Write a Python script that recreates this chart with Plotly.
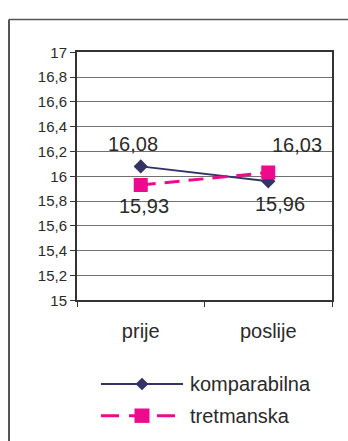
import plotly.graph_objects as go

# Mean scores before/after for the two groups
categories = ["prije", "poslije"]
komparabilna = [16.08, 15.96]
tretmanska = [15.93, 16.03]
series_names = ["komparabilna", "tretmanska"]
label_texts_k = ["16,08", "15,96"]
label_texts_t = ["15,93", "16,03"]

W, H = 348, 441
NAVY = "#333366"
PINK = "#EE0A8C"
TEXT = "#2a2a2a"
FONT = "Liberation Sans, Arial, sans-serif"

def px_x(x):
    return x / W

def px_y(y):
    return 1 - y / H

fig = go.Figure()
fig.add_trace(go.Scatter(
    x=categories, y=komparabilna, mode="lines+markers", name=series_names[0],
    line=dict(color=NAVY, width=2),
    marker=dict(symbol="diamond", size=11, color=NAVY),
    showlegend=False,
))
fig.add_trace(go.Scatter(
    x=categories, y=tretmanska, mode="lines+markers", name=series_names[1],
    line=dict(color=PINK, width=3, dash="15px,9px"),
    marker=dict(symbol="square", size=14, color=PINK),
    showlegend=False,
))

# Value labels next to each point
label_offsets_k = [(-8, 22), (12, -23)]
label_offsets_t = [(3, -21), (29, 28)]
annotations = []
for cat, val, txt, (dx, dy) in zip(categories, komparabilna, label_texts_k, label_offsets_k):
    annotations.append(dict(x=cat, y=val, text=txt, showarrow=False, xshift=dx, yshift=dy,
                            font=dict(size=20, color=TEXT, family=FONT)))
for cat, val, txt, (dx, dy) in zip(categories, tretmanska, label_texts_t, label_offsets_t):
    annotations.append(dict(x=cat, y=val, text=txt, showarrow=False, xshift=dx, yshift=dy,
                            font=dict(size=20, color=TEXT, family=FONT)))

# Legend drawn as a key beneath the plot
leg_x0, leg_x1, leg_text_x = 101, 183, 188
leg_rows = [390, 423]
shapes = []
# outer chart frame (top and left edges)
shapes.append(dict(type="line", xref="paper", yref="paper", x0=px_x(9), x1=1.02,
                   y0=px_y(11), y1=px_y(11), line=dict(color="#555", width=1.5)))
shapes.append(dict(type="line", xref="paper", yref="paper", x0=px_x(9), x1=px_x(9),
                   y0=px_y(11), y1=-0.02, line=dict(color="#555", width=2)))
# komparabilna key
yk = leg_rows[0]
shapes.append(dict(type="line", xref="paper", yref="paper", x0=px_x(leg_x0), x1=px_x(leg_x1),
                   y0=px_y(yk), y1=px_y(yk), line=dict(color=NAVY, width=2)))
cx = (leg_x0 + leg_x1) / 2
d = 6.5
shapes.append(dict(type="path", xref="paper", yref="paper",
                   path=f"M{px_x(cx - d)},{px_y(yk)} L{px_x(cx)},{px_y(yk - d)} "
                        f"L{px_x(cx + d)},{px_y(yk)} L{px_x(cx)},{px_y(yk + d)} Z",
                   fillcolor=NAVY, line=dict(color=NAVY, width=0)))
# tretmanska key
yt = leg_rows[1]
shapes.append(dict(type="line", xref="paper", yref="paper", x0=px_x(leg_x0), x1=px_x(leg_x1),
                   y0=px_y(yt), y1=px_y(yt), line=dict(color=PINK, width=3, dash="18px,10px")))
s = 7.5
shapes.append(dict(type="rect", xref="paper", yref="paper", x0=px_x(cx - s), x1=px_x(cx + s),
                   y0=px_y(yt + s), y1=px_y(yt - s), fillcolor=PINK, line=dict(width=0)))
for name, yy in zip(series_names, leg_rows):
    annotations.append(dict(x=px_x(leg_text_x), y=px_y(yy), xref="paper", yref="paper",
                            text=name, showarrow=False, xanchor="left", yanchor="middle",
                            font=dict(size=20, color=TEXT, family=FONT)))

fig.update_layout(
    width=W, height=H,
    margin=dict(l=0, r=0, t=0, b=0, pad=0),
    paper_bgcolor="white", plot_bgcolor="white",
    separators=",.",
    font=dict(family=FONT, color=TEXT),
    annotations=annotations,
    shapes=shapes,
    xaxis=dict(
        domain=[px_x(77), px_x(332)],
        type="category", range=[-0.5, 1.5],
        showline=True, mirror=True, linecolor="#333", linewidth=2,
        ticks="outside", tickson="boundaries", ticklen=5, tickcolor="#333",
        showgrid=False, tickfont=dict(size=20, color=TEXT),
        ticklabelstandoff=12,
    ),
    yaxis=dict(
        domain=[px_y(303), px_y(45)],
        range=[15, 17], dtick=0.2, tick0=15,
        showline=True, mirror=True, linecolor="#333", linewidth=2,
        ticks="outside", ticklen=5, tickcolor="#333",
        showgrid=True, gridcolor="#707070", gridwidth=1,
        tickfont=dict(size=15, color=TEXT), zeroline=False,
    ),
)

fig.write_html("out.html")
